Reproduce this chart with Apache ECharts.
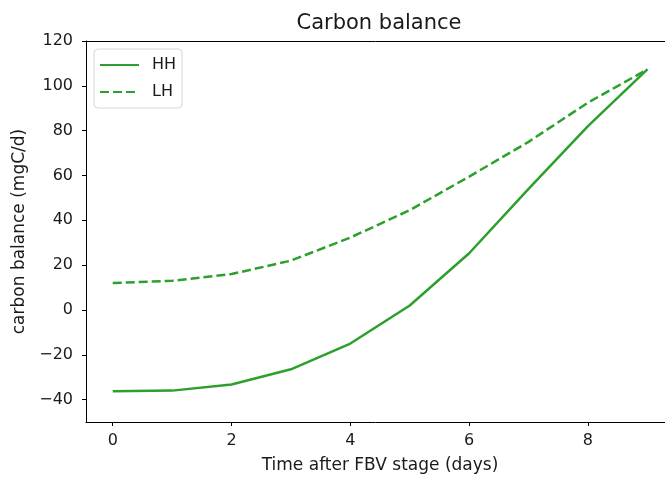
<!DOCTYPE html>
<html><head><meta charset="utf-8">
<script src="https://cdn.jsdelivr.net/npm/echarts@6/dist/echarts.min.js"></script>
<style>html,body{margin:0;padding:0;background:#fff}#c{width:665px;height:482px}</style>
</head><body><div id="c"></div>
<script>
const days = [0, 1, 2, 3, 4, 5, 6, 7, 8, 9];
const hh = [-36.3, -36, -33.3, -26.5, -15, 2, 25.3, 54, 82, 107.3];
const lh = [12, 13, 16, 22, 32.3, 44.5, 59.5, 75, 92.5, 107.3];
const xTicks = [0, 2, 4, 6, 8];
const yTicks = [-40, -20, 0, 20, 40, 60, 80, 100, 120];

const font = 'DejaVu Sans';
const green = '#2ca02c';
const ink = '#1a1a1a';
const XMIN = -0.45, XMAX = 9.297;
const minus = v => String(v).replace('-', '\u2212');
const chart = echarts.init(document.getElementById('c'));
chart.setOption({
  backgroundColor: '#fff',
  animation: false,
  title: {text: 'Carbon balance', left: 374, top: 8, textAlign: 'center',
    textStyle: {fontFamily: font, fontSize: 21, fontWeight: 'normal', color: ink}},
  grid: {left: 86, top: 41, right: 0, bottom: 60, containLabel: false},
  legend: {left: 94, top: 49, orient: 'vertical', itemWidth: 39, itemHeight: 16, itemGap: 11,
    itemStyle: {opacity: 0},
    backgroundColor: '#fff', borderColor: '#d6d6d6', borderWidth: 1, borderRadius: 4, padding: [8, 6, 8, 5],
    textStyle: {fontFamily: font, fontSize: 16, color: ink, padding: [0, 0, 0, 8]},
    data: ['HH', 'LH']},
  xAxis: [{type: 'value', min: XMIN, max: XMAX,
    name: 'Time after FBV stage (days)', nameLocation: 'middle', nameGap: 35,
    nameTextStyle: {fontFamily: font, fontSize: 17, color: ink, padding: [0, 0, 0, 9]},
    axisLine: {show: true, onZero: false, lineStyle: {color: '#000', width: 1}},
    axisTick: {show: true, inside: false, length: 4, customValues: xTicks, lineStyle: {color: '#000'}},
    axisLabel: {customValues: xTicks, fontFamily: font, fontSize: 16, color: ink, margin: 11},
    splitLine: {show: false}},
   {type: 'value', position: 'top', min: XMIN, max: XMAX,
    axisLine: {show: true, onZero: false, lineStyle: {color: '#000', width: 1}},
    axisTick: {show: false}, axisLabel: {show: false}, splitLine: {show: false}}],
  yAxis: {type: 'value', min: -50, max: 120,
    name: 'carbon balance (mgC/d)', nameLocation: 'middle', nameGap: 57,
    nameTextStyle: {fontFamily: font, fontSize: 17, color: ink},
    axisLine: {show: true, onZero: false, lineStyle: {color: '#000', width: 1}},
    axisTick: {show: true, inside: false, length: 4, customValues: yTicks, lineStyle: {color: '#000'}},
    axisLabel: {customValues: yTicks, formatter: minus, fontFamily: font, fontSize: 16, color: ink, margin: 13},
    splitLine: {show: false}},
  series: [
    {name: 'HH', type: 'line', data: days.map((d, i) => [d, hh[i]]), symbol: 'none',
      lineStyle: {color: green, width: 2.5, type: 'solid'}, itemStyle: {color: green}},
    {name: 'LH', type: 'line', data: days.map((d, i) => [d, lh[i]]), symbol: 'none',
      lineStyle: {color: green, width: 2.5, type: [9, 4]}, itemStyle: {color: green}}
  ]
});
</script></body></html>
